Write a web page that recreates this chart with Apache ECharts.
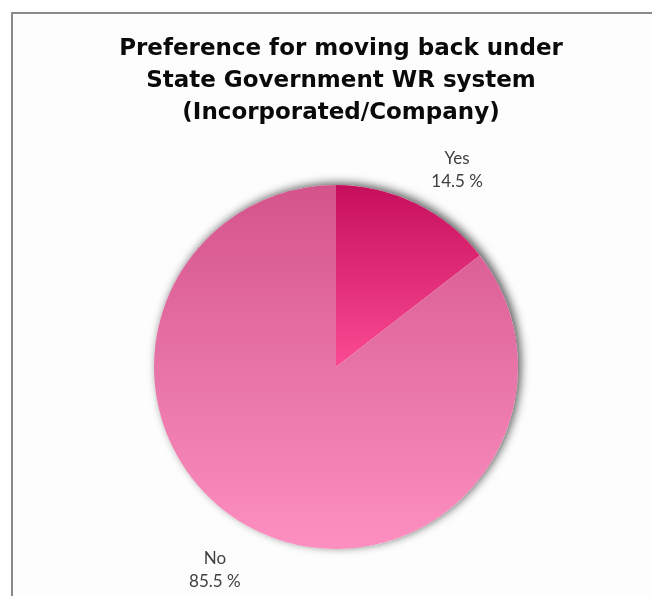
<!DOCTYPE html>
<html>
<head>
<meta charset="utf-8">
<script src="https://cdn.jsdelivr.net/npm/echarts@6/dist/echarts.min.js"></script>
<style>
html,body{margin:0;padding:0;background:#fff;}
#chart{width:652px;height:596px;}
</style>
</head>
<body>
<div id="chart"></div>
<script>
const titleText = 'Preference for moving back under\nState Government WR system\n(Incorporated/Company)';
const categories = ['Yes', 'No'];
const values = [14.5, 85.5];

const sliceColors = [
  {type:'linear', x:0, y:0, x2:0, y2:1, colorStops:[{offset:0,color:'#c60f5c'},{offset:1,color:'#fb4a93'}]},
  {type:'linear', x:0, y:0, x2:0, y2:1, colorStops:[{offset:0,color:'#d4538b'},{offset:0.5,color:'#e773a7'},{offset:1,color:'#fd8fc0'}]}
];

const chart = echarts.init(document.getElementById('chart'), null, {renderer:'canvas'});
chart.setOption({
  backgroundColor:'#ffffff',
  animation:false,
  graphic:[{
    type:'rect', left:11, top:12, silent:true,
    shape:{width:700, height:700},
    style:{fill:'#fdfdfd', stroke:'#8a8a8a', lineWidth:2}
  }],
  title:{
    text:titleText, left:336, textAlign:'center', top:28,
    textStyle:{fontFamily:'DejaVu Sans', fontWeight:'bold', fontSize:23, lineHeight:32, color:'#0a0a0a'}
  },
  series:[
    {
      type:'pie', silent:true, center:[336,367], radius:182, z:1,
      label:{show:false}, labelLine:{show:false},
      itemStyle:{color:'#ffffff', shadowBlur:10, shadowColor:'rgba(0,0,0,0.65)', shadowOffsetX:3, shadowOffsetY:-2},
      data:[{value:1, name:'bg'}]
    },
    {
      type:'pie', center:[336,367], radius:182, startAngle:90, clockwise:true, z:2,
      avoidLabelOverlap:false,
      label:{
        show:true, position:'outside', distanceToLabelLine:5,
        formatter: p => '{a|' + p.name + '\n' + p.value.toFixed(1) + ' %}',
        rich:{a:{width:60, align:'center', fontFamily:'Lato', fontSize:17, lineHeight:23, color:'#404040', padding:[6,0,0,0]}}
      },
      labelLine:{show:false, length:41, length2:-12},
      itemStyle:{borderWidth:0},
      data: categories.map((c,i)=>({name:c, value:values[i], itemStyle:{color:sliceColors[i]}}))
    }
  ]
});
</script>
</body>
</html>
